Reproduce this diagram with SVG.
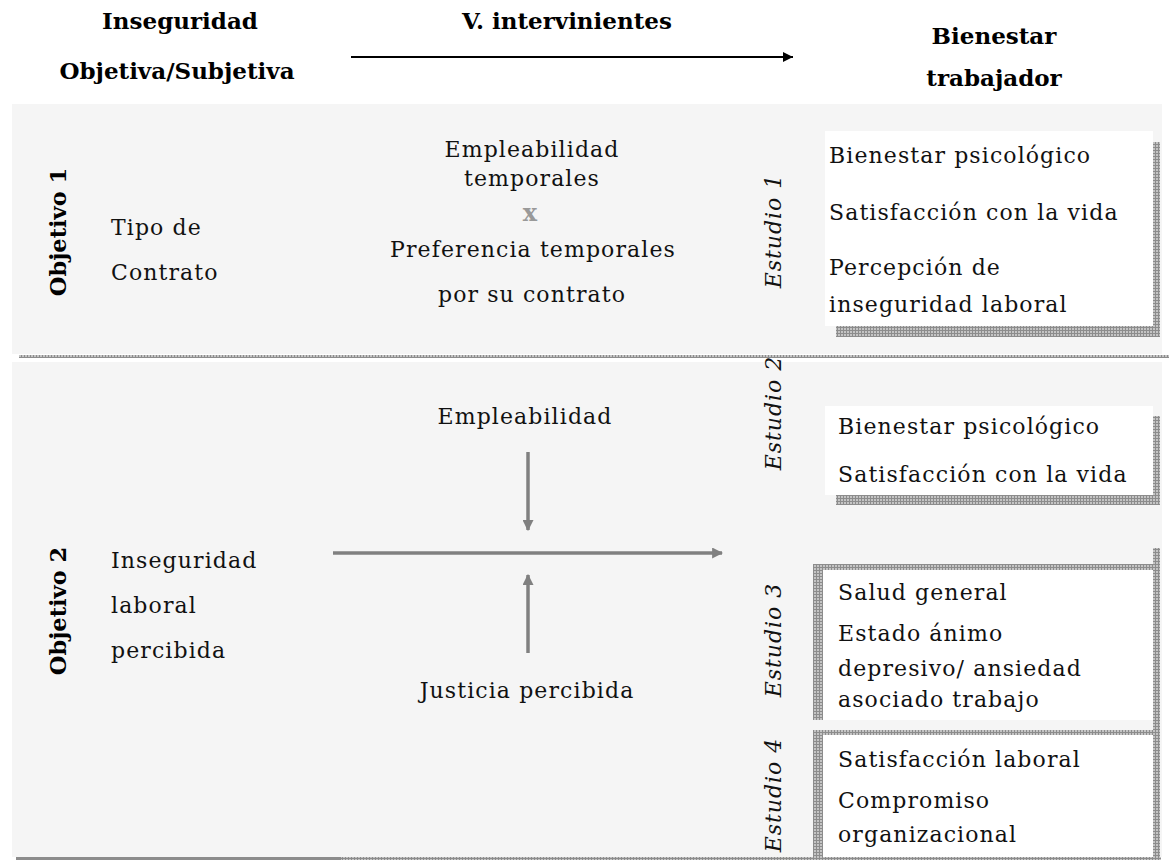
<svg xmlns="http://www.w3.org/2000/svg" width="1169" height="861" viewBox="0 0 1169 861">
<style>
.hd{font-family:"DejaVu Serif","Liberation Serif",serif;font-weight:bold;font-size:23px;fill:#000;text-anchor:middle}
.obj{font-family:"DejaVu Serif","Liberation Serif",serif;font-weight:bold;font-size:22.5px;fill:#000;text-anchor:middle}
.t{font-family:"DejaVu Serif","Liberation Serif",serif;font-size:22px;letter-spacing:1.1px;fill:#111}
.c{text-anchor:middle}
.est{font-family:"DejaVu Serif","Liberation Serif",serif;font-style:italic;font-size:22px;letter-spacing:1px;fill:#111;text-anchor:middle}
.conn{stroke:#808080;stroke-width:3.5;fill:none}
</style>
<defs>
<pattern id="grid" width="3" height="3" patternUnits="userSpaceOnUse">
<rect width="3" height="3" fill="#c4c4c4"/>
<rect width="3" height="1" fill="#8c8c8c"/>
<rect width="1" height="3" fill="#8c8c8c"/>
</pattern>
<marker id="ah" viewBox="0 0 10 10" refX="10" refY="5" markerWidth="10" markerHeight="10" markerUnits="userSpaceOnUse" orient="auto">
<path d="M0,0 L10,5 L0,10 Z" fill="#000"/>
</marker>
<marker id="ahg" viewBox="0 0 10 10" refX="9" refY="5" markerWidth="11" markerHeight="11" markerUnits="userSpaceOnUse" orient="auto">
<path d="M0,0 L10,5 L0,10 Z" fill="#808080"/>
</marker>
</defs>
<rect width="1169" height="861" fill="#fff"/>

<g id="headers">
<text class="hd" x="180" y="29">Inseguridad</text>
<text class="hd" x="177" y="79">Objetiva/Subjetiva</text>
<text class="hd" x="567" y="29">V. intervinientes</text>
<text class="hd" x="994" y="44">Bienestar</text>
<text class="hd" x="994" y="86">trabajador</text>
</g>

<g id="panel1">
<rect x="12" y="104" width="1150" height="250" fill="#f5f5f5"/>
<rect x="19" y="355" width="1150" height="3" fill="url(#grid)"/>
</g>
<g id="panel2">
<rect x="12" y="362" width="1150" height="495" fill="#f5f5f5"/>
<rect x="16" y="857" width="325" height="3" fill="#8c8c8c"/>
<rect x="341" y="857" width="820" height="3" fill="url(#grid)"/>
</g>

<g id="objetivo1">
<text class="obj" transform="translate(66,232) rotate(-90)">Objetivo 1</text>
<text class="t" x="111" y="235">Tipo de</text>
<text class="t" x="111" y="280">Contrato</text>
</g>

<g id="intervinientes1">
<text class="t c" x="532" y="157">Empleabilidad</text>
<text class="t c" x="532" y="186">temporales</text>
<text x="530" y="221" font-family="DejaVu Serif, serif" font-weight="bold" font-size="24" fill="#999" text-anchor="middle">x</text>
<text class="t c" x="533" y="257">Preferencia temporales</text>
<text class="t c" x="532" y="302">por su contrato</text>
</g>

<g id="estudio1">
<text class="est" transform="translate(781,231) rotate(-90)">Estudio 1</text>
</g>
<g id="box1">
<rect x="836" y="142" width="324" height="195" fill="url(#grid)"/>
<rect x="825" y="131" width="328" height="195" fill="#fff"/>
<text class="t" x="829" y="163">Bienestar psicológico</text>
<text class="t" x="829" y="220">Satisfacción con la vida</text>
<text class="t" x="829" y="275">Percepción de</text>
<text class="t" x="829" y="312">inseguridad laboral</text>
</g>

<g id="objetivo2">
<text class="obj" transform="translate(66,611) rotate(-90)">Objetivo 2</text>
<text class="t" x="111" y="568">Inseguridad</text>
<text class="t" x="111" y="613">laboral</text>
<text class="t" x="111" y="658">percibida</text>
</g>

<g id="empleabilidad2">
<text class="t c" x="525" y="424">Empleabilidad</text>
</g>
<g id="justicia">
<text class="t c" x="527" y="698">Justicia percibida</text>
</g>

<g id="estudio2">
<text class="est" transform="translate(781,413) rotate(-90)">Estudio 2</text>
</g>
<g id="box2">
<rect x="836" y="416" width="324" height="89" fill="url(#grid)"/>
<rect x="825" y="406" width="328" height="89" fill="#fff"/>
<text class="t" x="838" y="434">Bienestar psicológico</text>
<text class="t" x="838" y="482">Satisfacción con la vida</text>
</g>

<g id="estudio3">
<text class="est" transform="translate(781,640) rotate(-90)">Estudio 3</text>
</g>
<g id="estudio4">
<text class="est" transform="translate(781,795) rotate(-90)">Estudio 4</text>
</g>
<g id="boxright">
<rect x="1153" y="548" width="7" height="309" fill="url(#grid)"/>
</g>
<g id="box3">
<rect x="813" y="564" width="340" height="156" fill="url(#grid)"/>
<rect x="823" y="570" width="330" height="150" fill="#fff"/>
<text class="t" x="838" y="600">Salud general</text>
<text class="t" x="838" y="641">Estado ánimo</text>
<text class="t" x="838" y="676">depresivo/ ansiedad</text>
<text class="t" x="838" y="707">asociado trabajo</text>
</g>
<g id="box4">
<rect x="813" y="730" width="340" height="127" fill="url(#grid)"/>
<rect x="823" y="735" width="330" height="122" fill="#fff"/>
<text class="t" x="838" y="767">Satisfacción laboral</text>
<text class="t" x="838" y="808">Compromiso</text>
<text class="t" x="838" y="842">organizacional</text>
</g>

<g id="connectors">
<line x1="351" y1="57" x2="793" y2="57" stroke="#000" stroke-width="2" marker-end="url(#ah)"/>
<line class="conn" x1="333" y1="553" x2="722" y2="553" marker-end="url(#ahg)"/>
<line class="conn" x1="528" y1="452" x2="528" y2="530" marker-end="url(#ahg)"/>
<line class="conn" x1="528" y1="653" x2="528" y2="575" marker-end="url(#ahg)"/>
</g>
</svg>
